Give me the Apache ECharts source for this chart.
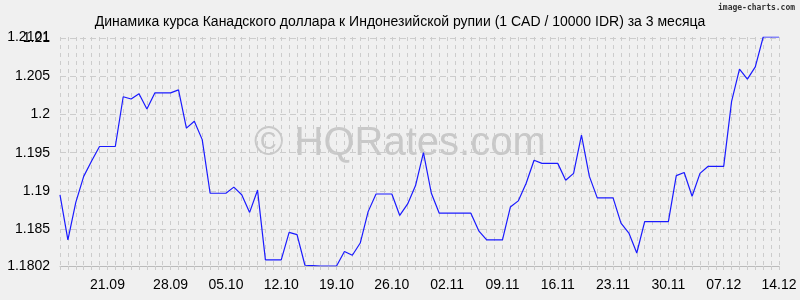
<!DOCTYPE html>
<html>
<head>
<meta charset="utf-8">
<script src="https://cdn.jsdelivr.net/npm/echarts@6/dist/echarts.min.js"></script>
<style>
html,body{margin:0;padding:0;background:#f0f0f0;}
#chart{width:800px;height:300px;}
</style>
</head>
<body>
<div id="chart"></div>
<script>
var titleText = 'Динамика курса Канадского доллара к Индонезийской рупии (1 CAD / 10000 IDR) за 3 месяца';

var rates = [
  1.1895, 1.1836, 1.1885, 1.1919, 1.1939, 1.1958, 1.1958, 1.1958,
  1.2023, 1.2020, 1.2027, 1.2007, 1.2028, 1.2028, 1.2028, 1.2032,
  1.1982, 1.1991, 1.1967, 1.1897, 1.1897, 1.1897, 1.1905, 1.1895,
  1.1872, 1.1901, 1.1810, 1.1810, 1.1810, 1.1846, 1.1843, 1.1803,
  1.18025, 1.1802, 1.1802, 1.1802, 1.1821, 1.1816, 1.1832, 1.1873,
  1.1896, 1.1896, 1.1896, 1.1868, 1.1883, 1.1907, 1.1950, 1.1897,
  1.1871, 1.1871, 1.1871, 1.1871, 1.1871, 1.1848, 1.1836, 1.1836,
  1.1836, 1.1879, 1.1887, 1.1910, 1.1940, 1.1936, 1.1936, 1.1936,
  1.1914, 1.1923, 1.1973, 1.1919, 1.1891, 1.1891, 1.1891, 1.1858,
  1.1845, 1.1819, 1.1860, 1.1860, 1.1860, 1.1860, 1.1920, 1.1924,
  1.1893, 1.1923, 1.1932, 1.1932, 1.1932, 1.2017, 1.2059, 1.2046,
  1.2062, 1.2101, 1.2101, 1.2101
];

var tickIndex  = [6, 14, 21, 28, 35, 42, 49, 56, 63, 70, 77, 84, 91];
var tickLabels = ['21.09','28.09','05.10','12.10','19.10','26.10','02.11','09.11','16.11','23.11','30.11','07.12','14.12'];

var yMin = 1.1802;
var yMax = 1.2101;
var yTicks = [1.1802, 1.185, 1.19, 1.195, 1.2, 1.205, 1.2101];
var yTickLabels = ['1.1802', '1.185', '1.19', '1.195', '1.2', '1.205', '1.2101'];
var yTicks2 = [1.21];
var yTickLabels2 = ['1.21'];
var yGrid = [1.185, 1.19, 1.195, 1.2, 1.205, 1.21];

var categories = rates.map(function (v, i) {
  var k = tickIndex.indexOf(i);
  return k >= 0 ? tickLabels[k] : String(i);
});

var chart = echarts.init(document.getElementById('chart'), null, {renderer: 'canvas'});
var font = '"Liberation Sans", Arial, sans-serif';

function yAxisDef(ticks, labels, showGrid) {
  return {
    type: 'value',
    min: yMin,
    max: yMax,
    position: 'left',
    axisLine: {show: false},
    axisTick: {show: false, customValues: showGrid ? yGrid : ticks},
    axisLabel: {
      customValues: ticks,
      showMinLabel: true,
      showMaxLabel: true,
      hideOverlap: false,
      formatter: function (v) {
        var k = ticks.indexOf(v);
        return k >= 0 ? labels[k] : '';
      },
      fontFamily: font, fontSize: 14, color: '#000', margin: 10
    },
    splitLine: {show: showGrid, lineStyle: {color: '#cccccc', type: [6, 4], width: 1}}
  };
}

chart.setOption({
  backgroundColor: '#f0f0f0',
  animation: false,
  title: {
    text: titleText,
    left: 'center',
    top: 10,
    textStyle: {fontFamily: font, fontSize: 14, fontWeight: 'normal', color: '#000'}
  },
  graphic: [
    {
      type: 'text', left: 718, top: 4, z: 10,
      style: {text: 'image-charts.com', fontFamily: '"DejaVu Sans Mono", monospace', fontSize: 8, fontWeight: 'bold', fill: '#333'}
    },
    {
      type: 'text', left: 254, top: 124, z: 0,
      style: {text: '\u00A9 HQRates.com', fontFamily: font, fontSize: 40, fill: '#c8c8c8'}
    }
  ],
  grid: {left: 60, right: 21, top: 37, bottom: 34},
  xAxis: {
    type: 'category',
    data: categories,
    boundaryGap: false,
    axisLine: {show: true, lineStyle: {color: '#bbbbbb', width: 1}},
    axisTick: {show: true, interval: 0, length: 4, lineStyle: {color: '#cccccc'}},
    axisLabel: {
      interval: function (index) { return tickIndex.indexOf(index) >= 0; },
      fontFamily: font, fontSize: 14, color: '#000', margin: 12
    },
    splitLine: {show: true, interval: 0, lineStyle: {color: '#cccccc', type: [4, 4], width: 1}}
  },
  yAxis: [
    yAxisDef(yTicks, yTickLabels, true),
    yAxisDef(yTicks2, yTickLabels2, false)
  ],
  series: [{
    type: 'line',
    data: rates,
    yAxisIndex: 0,
    showSymbol: false,
    symbol: 'none',
    z: 5,
    lineStyle: {color: '#1a1aff', width: 1.2}
  }]
});
</script>
</body>
</html>
